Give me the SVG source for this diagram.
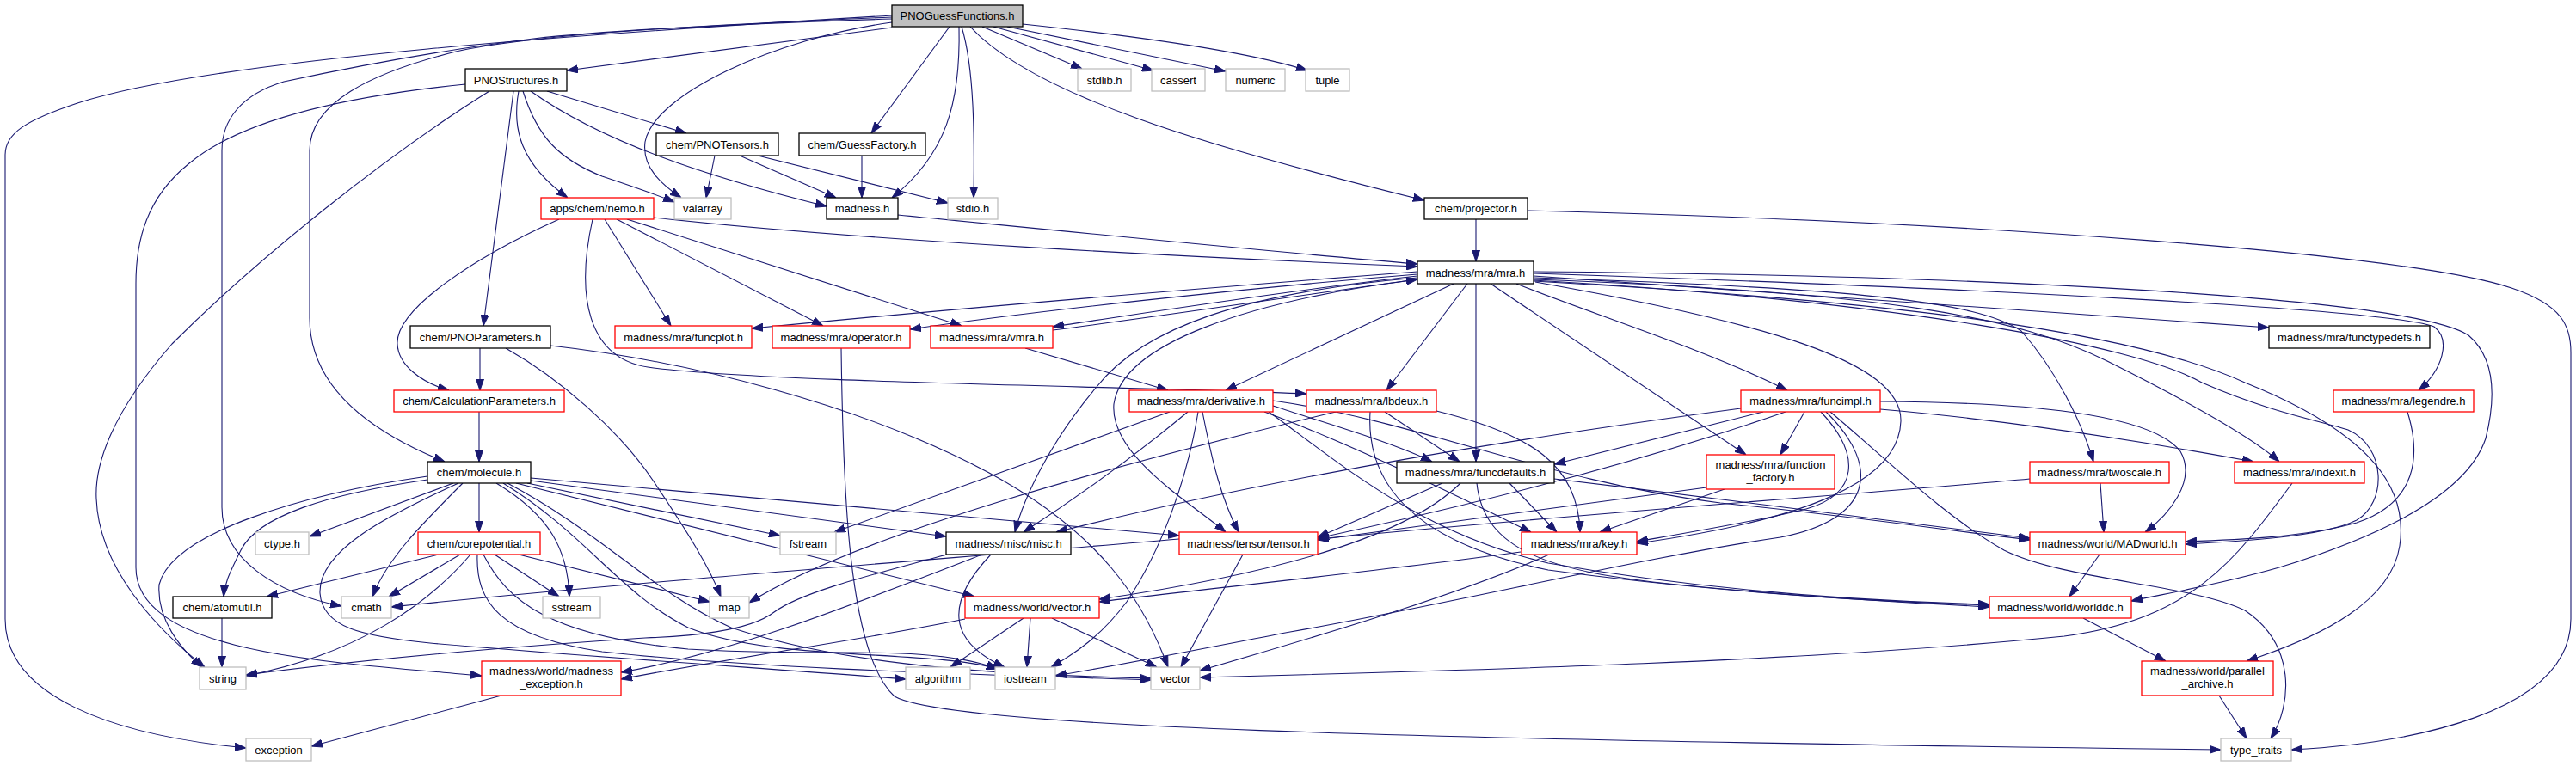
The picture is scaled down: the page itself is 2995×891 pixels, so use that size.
<svg xmlns="http://www.w3.org/2000/svg" width="2995" height="891" viewBox="0 0 2995 891">
<defs>
<marker id="a" markerWidth="13" markerHeight="10" refX="13" refY="5" orient="auto" markerUnits="userSpaceOnUse"><path d="M0,0.5 L13,5 L0,9.5 z" fill="#191970" stroke="#191970" stroke-width="1"/></marker>
<style>
.e{fill:none;stroke:#191970;stroke-width:1.1;marker-end:url(#a)}
rect{fill:#fff;stroke-width:1.3}
.n rect{stroke:#000}
.r rect{stroke:#ff0000}
.g rect{stroke:#bfbfbf}
.root rect{fill:#bfbfbf;stroke:#000}
text{font-family:"Liberation Sans",Arial,sans-serif;font-size:13px;fill:#000;text-anchor:middle}
</style>
</defs>
<rect x="0" y="0" width="2995" height="891" style="fill:#fff;stroke:none"/>
<g id="edges">
<path class="e" d="M1037,32 L659,82"/>
<path class="e" d="M1037,18 C700,38 250,68 90,120 C30,140 6,155 6,180 L6,720 C6,810 130,855 286,870"/>
<path class="e" d="M1037,22 C850,28 700,36 620,45 C500,60 400,80 330,95 C280,110 258,140 258,175 L258,590 C258,650 320,690 397,705"/>
<path class="e" d="M1037,20 C800,30 620,40 530,60 C430,85 360,120 360,175 L360,370 C360,430 400,490 517,537"/>
<path class="e" d="M1037,26 C900,45 760,110 750,165 C746,195 770,215 792,230"/>
<path class="e" d="M1104,31 L1013,155"/>
<path class="e" d="M1115,31 C1117,120 1100,180 1037,230"/>
<path class="e" d="M1118,31 C1133,80 1133,160 1132,230"/>
<path class="e" d="M1128,31 C1200,110 1400,170 1656,233"/>
<path class="e" d="M1142,31 L1258,80"/>
<path class="e" d="M1155,31 L1341,82"/>
<path class="e" d="M1171,31 L1425,83"/>
<path class="e" d="M1189,28 C1350,45 1460,63 1520,82"/>
<path class="e" d="M541,98 C400,112 280,140 220,190 C170,230 158,280 158,330 L158,660 C158,760 380,770 560,786"/>
<path class="e" d="M569,106 C450,180 300,300 200,400 C130,480 110,540 112,580 C115,660 180,730 238,776"/>
<path class="e" d="M597,106 L562,379"/>
<path class="e" d="M603,106 C595,150 605,190 660,230"/>
<path class="e" d="M617,106 C700,165 820,205 961,240"/>
<path class="e" d="M608,106 C625,160 650,185 700,205 C730,215 760,225 784,235"/>
<path class="e" d="M636,106 L798,155"/>
<path class="e" d="M831,181 L821,230"/>
<path class="e" d="M860,181 L972,230"/>
<path class="e" d="M881,181 L1102,236"/>
<path class="e" d="M1002,181 L1002,230"/>
<path class="e" d="M650,255 C550,300 460,360 462,400 C463,425 490,445 522,454"/>
<path class="e" d="M689,255 C670,340 680,420 760,428 C900,445 1300,449 1519,458"/>
<path class="e" d="M703,255 L780,379"/>
<path class="e" d="M717,255 L957,379"/>
<path class="e" d="M729,255 L1118,379"/>
<path class="e" d="M760,253 C1000,280 1400,300 1648,310"/>
<path class="e" d="M1044,250 C1300,275 1500,295 1648,307"/>
<path class="e" d="M1716,255 L1716,304"/>
<path class="e" d="M1776,245 C2300,258 2800,295 2920,335 C2980,355 2989,380 2989,410 L2989,720 C2989,830 2800,865 2664,872"/>
<path class="e" d="M558,405 L558,454"/>
<path class="e" d="M588,405 C650,440 720,500 760,560 C800,620 825,660 838,694"/>
<path class="e" d="M640,402 C800,420 1000,470 1150,550 C1280,620 1330,700 1358,776"/>
<path class="e" d="M557,479 L557,537"/>
<path class="e" d="M978,405 C980,560 985,760 1040,810 C1100,845 1600,860 2582,872"/>
<path class="e" d="M1224,384 C1350,368 1500,345 1648,325"/>
<path class="e" d="M1192,405 L1358,454"/>
<path class="e" d="M1648,316 C1400,335 1100,360 874,382"/>
<path class="e" d="M1648,319 C1450,335 1200,362 1058,383"/>
<path class="e" d="M1648,321 C1480,340 1320,366 1224,380"/>
<path class="e" d="M1648,323 C1450,340 1330,380 1275,450 C1220,515 1190,580 1180,619"/>
<path class="e" d="M1648,325 C1450,350 1305,400 1295,470 C1290,530 1385,585 1425,619"/>
<path class="e" d="M1690,330 L1425,454"/>
<path class="e" d="M1706,330 L1612,454"/>
<path class="e" d="M1716,330 L1716,537"/>
<path class="e" d="M1733,330 L2030,529"/>
<path class="e" d="M1763,330 C1850,365 1980,405 2078,454"/>
<path class="e" d="M1785,328 C2050,375 2212,420 2210,490 C2208,560 2100,605 1903,632"/>
<path class="e" d="M1783,321 L2638,381"/>
<path class="e" d="M1783,323 C2150,335 2300,350 2350,385 C2390,430 2420,490 2434,537"/>
<path class="e" d="M1783,325 C2200,340 2350,370 2450,420 C2550,470 2620,510 2650,537"/>
<path class="e" d="M1783,326 C2200,350 2480,400 2560,445 C2640,480 2700,490 2730,500 C2775,520 2775,585 2740,605 C2700,625 2600,630 2541,633"/>
<path class="e" d="M1783,327 C2200,350 2480,385 2610,445 C2760,505 2800,570 2790,635 C2780,700 2700,740 2612,769"/>
<path class="e" d="M1783,316 C2300,320 2800,345 2870,390 C2905,420 2900,470 2890,510 C2870,570 2780,620 2650,660 C2580,680 2520,690 2478,699"/>
<path class="e" d="M1783,318 C2300,335 2780,360 2830,380 C2850,395 2840,430 2812,454"/>
<path class="e" d="M1553,479 C1300,540 1000,620 871,701"/>
<path class="e" d="M1610,479 L1697,537"/>
<path class="e" d="M1670,478 C1780,505 1835,540 1837,619"/>
<path class="e" d="M1593,479 C1588,560 1640,630 1800,663 C2000,690 2200,700 2313,706"/>
<path class="e" d="M1360,479 L970,619"/>
<path class="e" d="M1381,479 C1320,530 1250,580 1190,619"/>
<path class="e" d="M1393,479 C1380,560 1350,640 1310,700 C1280,740 1250,760 1222,776"/>
<path class="e" d="M1398,479 C1410,540 1420,580 1440,619"/>
<path class="e" d="M1480,472 C1550,495 1620,515 1665,537"/>
<path class="e" d="M1470,479 C1580,520 1700,580 1780,619"/>
<path class="e" d="M1480,466 C1650,490 1800,560 2000,585 C2150,600 2250,615 2360,628"/>
<path class="e" d="M1475,479 C1560,540 1650,620 1800,655 C2000,690 2200,700 2313,703"/>
<path class="e" d="M1677,562 L1532,625"/>
<path class="e" d="M1698,562 C1640,620 1500,665 1278,697"/>
<path class="e" d="M1717,562 C1725,640 1800,665 1950,680 C2100,695 2200,700 2313,704"/>
<path class="e" d="M1755,562 L1810,619"/>
<path class="e" d="M1807,557 C2000,580 2200,605 2360,626"/>
<path class="e" d="M2024,475 C1800,505 1500,550 1228,619"/>
<path class="e" d="M2050,479 L1807,540"/>
<path class="e" d="M2076,479 C1900,540 1700,590 1532,626"/>
<path class="e" d="M2098,479 L2070,529"/>
<path class="e" d="M2117,479 C2165,530 2160,575 2100,592 C2050,605 1960,620 1903,630"/>
<path class="e" d="M2123,479 C2190,545 2175,605 2070,625 C1900,650 1700,700 1500,735 C1380,758 1290,776 1227,786"/>
<path class="e" d="M2128,479 C2200,540 2260,600 2330,640 C2400,675 2550,680 2610,710 C2670,750 2665,820 2640,859"/>
<path class="e" d="M2186,467 C2350,468 2500,480 2535,525 C2555,560 2520,600 2494,619"/>
<path class="e" d="M2186,476 C2350,490 2500,515 2620,537"/>
<path class="e" d="M1984,567 C1850,585 1700,605 1532,628"/>
<path class="e" d="M2005,569 L1860,619"/>
<path class="e" d="M2360,557 C2200,572 1900,592 1532,627"/>
<path class="e" d="M2442,562 L2446,619"/>
<path class="e" d="M2665,562 C2600,650 2550,720 2400,740 C2100,770 1700,780 1395,788"/>
<path class="e" d="M2799,479 C2815,530 2810,585 2740,608 C2680,625 2600,628 2541,630"/>
<path class="e" d="M2441,645 L2406,694"/>
<path class="e" d="M2422,719 L2518,769"/>
<path class="e" d="M2580,809 L2612,859"/>
<path class="e" d="M1801,645 C1700,690 1550,735 1395,780"/>
<path class="e" d="M1768,642 C1600,665 1400,685 1278,700"/>
<path class="e" d="M1371,627 C1100,650 700,680 455,706"/>
<path class="e" d="M1445,645 L1373,776"/>
<path class="e" d="M1101,645 C1000,672 930,690 900,712 C870,735 800,740 750,742 C550,755 400,770 286,785"/>
<path class="e" d="M1142,645 C1000,700 850,760 722,782"/>
<path class="e" d="M1152,645 C1100,700 1100,745 1168,776"/>
<path class="e" d="M1190,719 L1105,776"/>
<path class="e" d="M1198,719 L1194,776"/>
<path class="e" d="M1223,719 L1345,776"/>
<path class="e" d="M1122,720 C1000,745 850,765 722,790"/>
<path class="e" d="M497,554 C350,575 200,620 185,680 C182,720 210,755 235,776"/>
<path class="e" d="M497,558 C380,575 300,600 280,640 C265,670 261,680 260,694"/>
<path class="e" d="M527,562 L360,624"/>
<path class="e" d="M538,562 C490,610 450,650 433,694"/>
<path class="e" d="M557,562 L557,619"/>
<path class="e" d="M577,562 C640,600 660,640 662,694"/>
<path class="e" d="M533,562 C450,600 370,640 372,690 C375,730 420,740 500,748 C700,765 900,778 1053,790"/>
<path class="e" d="M585,562 C680,620 720,690 800,730 C900,770 1080,755 1160,778"/>
<path class="e" d="M590,562 C700,620 760,690 850,730 C1000,780 1200,785 1338,789"/>
<path class="e" d="M600,562 L1133,694"/>
<path class="e" d="M613,562 L907,623"/>
<path class="e" d="M617,559 L1100,624"/>
<path class="e" d="M617,556 L1371,623"/>
<path class="e" d="M510,645 L310,694"/>
<path class="e" d="M535,645 L452,694"/>
<path class="e" d="M547,645 C500,700 420,760 286,786"/>
<path class="e" d="M575,645 L650,694"/>
<path class="e" d="M603,645 L825,700"/>
<path class="e" d="M555,645 C553,700 580,740 700,758 C900,780 1200,786 1338,791"/>
<path class="e" d="M562,645 C590,700 640,740 800,755 C950,765 1080,748 1160,778"/>
<path class="e" d="M258,719 L258,776"/>
<path class="e" d="M583,809 L362,868"/>
</g>
<g id="n_root" class="root"><rect x="1037" y="6" width="152" height="25"/><text x="1113" y="23">PNOGuessFunctions.h</text></g>
<g id="n_pnostructures" class="n"><rect x="541" y="80" width="118" height="26"/><text x="600" y="97.5">PNOStructures.h</text></g>
<g id="n_stdlib" class="g"><rect x="1253" y="80" width="62" height="26"/><text x="1284" y="97.5">stdlib.h</text></g>
<g id="n_cassert" class="g"><rect x="1339" y="80" width="62" height="26"/><text x="1370" y="97.5">cassert</text></g>
<g id="n_numeric" class="g"><rect x="1425" y="80" width="69" height="26"/><text x="1459.5" y="97.5">numeric</text></g>
<g id="n_tuple" class="g"><rect x="1518" y="80" width="51" height="26"/><text x="1543.5" y="97.5">tuple</text></g>
<g id="n_pnotensors" class="n"><rect x="763" y="155" width="142" height="26"/><text x="834" y="172.5">chem/PNOTensors.h</text></g>
<g id="n_guessfactory" class="n"><rect x="929" y="155" width="147" height="26"/><text x="1002.5" y="172.5">chem/GuessFactory.h</text></g>
<g id="n_nemo" class="r"><rect x="629" y="230" width="131" height="25"/><text x="694.5" y="247">apps/chem/nemo.h</text></g>
<g id="n_valarray" class="g"><rect x="784" y="230" width="66" height="25"/><text x="817" y="247">valarray</text></g>
<g id="n_madness" class="n"><rect x="961" y="230" width="83" height="25"/><text x="1002.5" y="247">madness.h</text></g>
<g id="n_stdio" class="g"><rect x="1102" y="230" width="58" height="25"/><text x="1131" y="247">stdio.h</text></g>
<g id="n_projector" class="n"><rect x="1656" y="230" width="120" height="25"/><text x="1716" y="247">chem/projector.h</text></g>
<g id="n_mra" class="n"><rect x="1648" y="304" width="135" height="26"/><text x="1715.5" y="321.5">madness/mra/mra.h</text></g>
<g id="n_pnoparameters" class="n"><rect x="477" y="379" width="163" height="26"/><text x="558.5" y="396.5">chem/PNOParameters.h</text></g>
<g id="n_funcplot" class="r"><rect x="715" y="379" width="159" height="26"/><text x="794.5" y="396.5">madness/mra/funcplot.h</text></g>
<g id="n_operator" class="r"><rect x="898" y="379" width="160" height="26"/><text x="978" y="396.5">madness/mra/operator.h</text></g>
<g id="n_vmra" class="r"><rect x="1082" y="379" width="142" height="26"/><text x="1153" y="396.5">madness/mra/vmra.h</text></g>
<g id="n_functypedefs" class="n"><rect x="2638" y="379" width="187" height="26"/><text x="2731.5" y="396.5">madness/mra/functypedefs.h</text></g>
<g id="n_calcparams" class="r"><rect x="458" y="454" width="198" height="25"/><text x="557" y="471">chem/CalculationParameters.h</text></g>
<g id="n_derivative" class="r"><rect x="1313" y="454" width="167" height="25"/><text x="1396.5" y="471">madness/mra/derivative.h</text></g>
<g id="n_lbdeux" class="r"><rect x="1519" y="454" width="151" height="25"/><text x="1594.5" y="471">madness/mra/lbdeux.h</text></g>
<g id="n_funcimpl" class="r"><rect x="2024" y="454" width="162" height="25"/><text x="2105" y="471">madness/mra/funcimpl.h</text></g>
<g id="n_legendre" class="r"><rect x="2713" y="454" width="163" height="25"/><text x="2794.5" y="471">madness/mra/legendre.h</text></g>
<g id="n_molecule" class="n"><rect x="497" y="537" width="120" height="25"/><text x="557" y="554">chem/molecule.h</text></g>
<g id="n_funcdefaults" class="n"><rect x="1624" y="537" width="183" height="25"/><text x="1715.5" y="554">madness/mra/funcdefaults.h</text></g>
<g id="n_function_factory" class="r"><rect x="1984" y="529" width="149" height="40"/><text x="2058.5" y="545">madness/mra/function</text><text x="2058.5" y="560">_factory.h</text></g>
<g id="n_twoscale" class="r"><rect x="2360" y="537" width="162" height="25"/><text x="2441" y="554">madness/mra/twoscale.h</text></g>
<g id="n_indexit" class="r"><rect x="2598" y="537" width="151" height="25"/><text x="2673.5" y="554">madness/mra/indexit.h</text></g>
<g id="n_ctype" class="g"><rect x="297" y="619" width="62" height="26"/><text x="328" y="636.5">ctype.h</text></g>
<g id="n_corepotential" class="r"><rect x="486" y="619" width="142" height="26"/><text x="557" y="636.5">chem/corepotential.h</text></g>
<g id="n_fstream" class="g"><rect x="907" y="619" width="65" height="26"/><text x="939.5" y="636.5">fstream</text></g>
<g id="n_misc" class="n"><rect x="1100" y="619" width="145" height="26"/><text x="1172.5" y="636.5">madness/misc/misc.h</text></g>
<g id="n_tensor" class="r"><rect x="1371" y="619" width="161" height="26"/><text x="1451.5" y="636.5">madness/tensor/tensor.h</text></g>
<g id="n_key" class="r"><rect x="1769" y="619" width="134" height="26"/><text x="1836" y="636.5">madness/mra/key.h</text></g>
<g id="n_madworld" class="r"><rect x="2360" y="619" width="181" height="26"/><text x="2450.5" y="636.5">madness/world/MADworld.h</text></g>
<g id="n_atomutil" class="n"><rect x="201" y="694" width="115" height="25"/><text x="258.5" y="711">chem/atomutil.h</text></g>
<g id="n_cmath" class="g"><rect x="397" y="694" width="58" height="25"/><text x="426" y="711">cmath</text></g>
<g id="n_sstream" class="g"><rect x="631" y="694" width="67" height="25"/><text x="664.5" y="711">sstream</text></g>
<g id="n_map" class="g"><rect x="825" y="694" width="46" height="25"/><text x="848" y="711">map</text></g>
<g id="n_vectorh" class="r"><rect x="1122" y="694" width="156" height="25"/><text x="1200" y="711">madness/world/vector.h</text></g>
<g id="n_worlddc" class="r"><rect x="2313" y="694" width="165" height="25"/><text x="2395.5" y="711">madness/world/worlddc.h</text></g>
<g id="n_string" class="g"><rect x="232" y="776" width="54" height="26"/><text x="259" y="793.5">string</text></g>
<g id="n_madness_exception" class="r"><rect x="560" y="769" width="162" height="40"/><text x="641" y="785">madness/world/madness</text><text x="641" y="800">_exception.h</text></g>
<g id="n_algorithm" class="g"><rect x="1053" y="776" width="75" height="26"/><text x="1090.5" y="793.5">algorithm</text></g>
<g id="n_iostream" class="g"><rect x="1157" y="776" width="70" height="26"/><text x="1192" y="793.5">iostream</text></g>
<g id="n_vector" class="g"><rect x="1338" y="776" width="57" height="26"/><text x="1366.5" y="793.5">vector</text></g>
<g id="n_parallel_archive" class="r"><rect x="2490" y="769" width="153" height="40"/><text x="2566.5" y="785">madness/world/parallel</text><text x="2566.5" y="800">_archive.h</text></g>
<g id="n_exception" class="g"><rect x="286" y="859" width="76" height="26"/><text x="324" y="876.5">exception</text></g>
<g id="n_type_traits" class="g"><rect x="2582" y="859" width="82" height="26"/><text x="2623" y="876.5">type_traits</text></g>
</svg>
